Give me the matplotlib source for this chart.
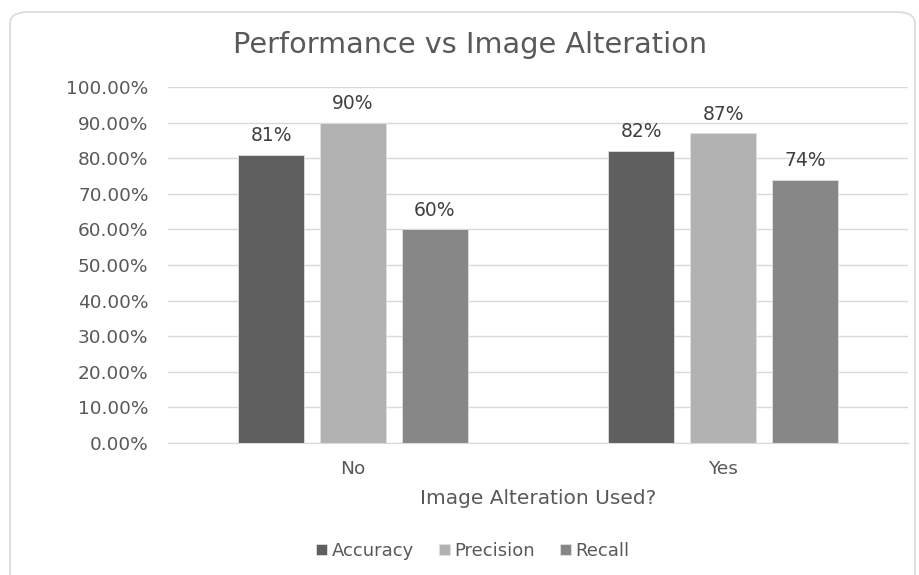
import numpy as np
import matplotlib
matplotlib.use("Agg")
import matplotlib.pyplot as plt
from matplotlib.patches import FancyBboxPatch
from matplotlib.ticker import FuncFormatter

categories = ["No", "Yes"]
series = ["Accuracy", "Precision", "Recall"]
accuracy = [0.81, 0.82]
precision = [0.90, 0.87]
recall = [0.60, 0.74]
colors = ["#5f5f5f", "#b2b2b2", "#878787"]

plt.rcParams["font.family"] = ["DejaVu Sans"]
text_color = "#595959"

fig = plt.figure(figsize=(9.2, 5.75), dpi=100)
fig.patch.set_facecolor("white")

# chart frame with rounded corners
frame = FancyBboxPatch((10 / 920, -0.05), 905 / 920, 1.0 - 12 / 575 + 0.05,
                       boxstyle="round,pad=0,rounding_size=0.02",
                       transform=fig.transFigure, facecolor="none",
                       edgecolor="#d9d9d9", linewidth=1.2, zorder=-1)
fig.patches.append(frame)

ax = fig.add_axes([168 / 920, 1 - 443 / 575, (908 - 168) / 920, (443 - 87) / 575])
ax.set_facecolor("none")

x = np.arange(len(categories))
width = 0.176
step = 0.2216
values = [accuracy, precision, recall]
for i, (name, vals, col) in enumerate(zip(series, values, colors)):
    pos = x + (i - 1) * step
    bars = ax.bar(pos, vals, width, color=col, label=name, zorder=3,
                  edgecolor="#e0e0e0", linewidth=0.6)
    for b, v in zip(bars, vals):
        ax.annotate(f"{v:.0%}", (b.get_x() + b.get_width() / 2, v),
                    xytext=(0, 7), textcoords="offset points",
                    ha="center", va="bottom", fontsize=13.5, color="#404040")

ax.set_xlim(-0.5, 1.5)
ax.set_ylim(0, 1.0)
ax.set_yticks(np.arange(0, 1.01, 0.1))
ax.yaxis.set_major_formatter(FuncFormatter(lambda v, p: f"{v * 100:.2f}%"))
ax.set_xticks(x)
ax.set_xticklabels(categories)
ax.grid(axis="y", color="#d9d9d9", linewidth=1, zorder=0)
ax.tick_params(axis="both", length=0, labelsize=13.3, labelcolor=text_color)
ax.tick_params(axis="y", pad=14)
ax.tick_params(axis="x", pad=12)
for s in ["top", "right", "left"]:
    ax.spines[s].set_visible(False)
ax.spines["bottom"].set_color("#d9d9d9")
ax.spines["bottom"].set_zorder(4)

ax.set_xlabel("Image Alteration Used?", fontsize=14.5, color=text_color, labelpad=8)
fig.text(470 / 920, 1 - 45 / 575, "Performance vs Image Alteration",
         ha="center", va="center", fontsize=20.7, color=text_color)

leg = fig.legend(loc="center", bbox_to_anchor=(473 / 920, 1 - 551 / 575), ncol=3,
                 frameon=False, fontsize=13, handlelength=0.6, handleheight=0.6,
                 handletextpad=0.25, columnspacing=1.4)
for t in leg.get_texts():
    t.set_color(text_color)

fig.savefig("out.png", dpi=100)
